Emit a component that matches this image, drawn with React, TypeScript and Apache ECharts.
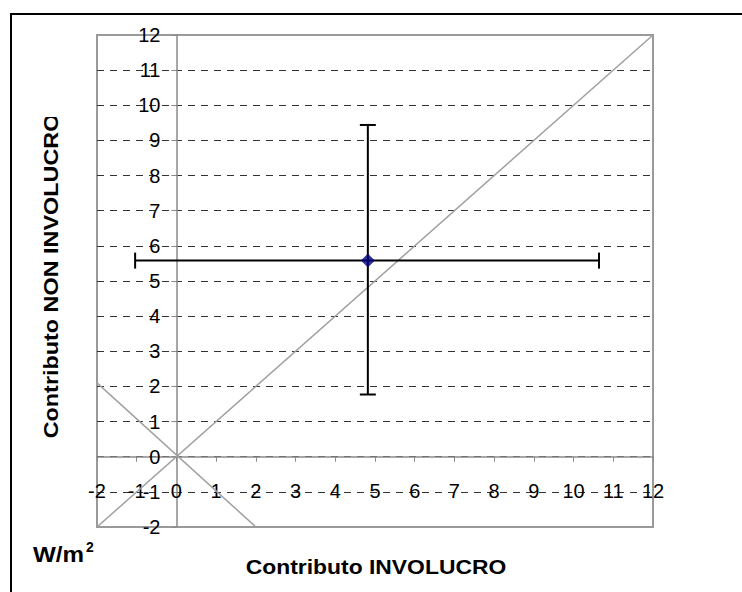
import React, { useEffect, useRef } from "react";
import * as echarts from "echarts";

const axisMin = -2;
const axisMax = 12;
const axisStep = 1;

// Point with error bars
const pointX = [4.82];
const pointY = [5.58];
const errXLow = [-1.04];
const errXHigh = [10.64];
const errYLow = [1.77];
const errYHigh = [9.44];

// Reference lines
const diagonalLine = [
  [-2, -2],
  [12, 12],
];
const antiDiagonalLine = [
  [-2, 2.1],
  [2, -2],
];

const xTitle = "Contributo INVOLUCRO";
const yTitle = "Contributo NON INVOLUCRO";
const unitText = "W/m";
const unitSup = "2";

const GRID_LEFT = 97;
const GRID_TOP = 35;
const GRID_W = 556;
const GRID_H = 492;

const LABEL_SIZE = 20;

export default function App() {
  const ref = useRef<HTMLDivElement>(null);

  useEffect(() => {
    if (!ref.current) return;
    const chart = echarts.init(ref.current, undefined, { renderer: "svg" });

    const errData = pointX.map((x, i) => [
      x,
      pointY[i],
      errXLow[i],
      errXHigh[i],
      errYLow[i],
      errYHigh[i],
    ]);
    const scatterData = pointX.map((x, i) => [x, pointY[i]]);

    // axes crossing at the origin
    const yZeroOffset = -((GRID_W * (0 - axisMin)) / (axisMax - axisMin));
    const xOffset = -(GRID_H - (GRID_H * (axisMax - 0)) / (axisMax - axisMin));

    const labelRich = {
      n: {
        fontSize: LABEL_SIZE,
        fontFamily: "Liberation Sans",
        color: "#000",
        lineHeight: LABEL_SIZE + 2,
      },
    };

    const option: any = {
      animation: false,
      backgroundColor: "#fff",
      textStyle: { fontFamily: "Liberation Sans", fontSize: LABEL_SIZE },
      grid: {
        left: GRID_LEFT,
        top: GRID_TOP,
        width: GRID_W,
        height: GRID_H,
        show: true,
        borderColor: "#9a9a9a",
        borderWidth: 2,
        backgroundColor: "transparent",
      },
      xAxis: {
        type: "value",
        min: axisMin,
        max: axisMax,
        interval: axisStep,
        position: "bottom",
        offset: xOffset,
        axisLine: { show: true, onZero: false, lineStyle: { color: "#8a8a8a", width: 1.5 } },
        axisTick: { show: true, inside: false, length: 5, lineStyle: { color: "#8a8a8a", width: 1 } },
        axisLabel: {
          show: true,
          margin: 23,
          color: "#000",
          fontSize: LABEL_SIZE,
          fontFamily: "Liberation Sans",
          formatter: (v: number) => "{n|" + v + "}",
          rich: labelRich,
          showMinLabel: true,
          showMaxLabel: true,
        },
        splitLine: { show: false },
      },
      yAxis: {
        type: "value",
        min: axisMin,
        max: axisMax,
        interval: axisStep,
        position: "left",
        offset: yZeroOffset,
        axisLine: { show: true, onZero: false, lineStyle: { color: "#8a8a8a", width: 1.5 } },
        axisTick: { show: true, inside: false, length: 5, lineStyle: { color: "#8a8a8a", width: 1 } },
        axisLabel: {
          show: true,
          margin: 16,
          color: "#000",
          fontSize: LABEL_SIZE,
          fontFamily: "Liberation Sans",
          formatter: (v: number) => "{n|" + v + "}",
          rich: labelRich,
          showMinLabel: true,
          showMaxLabel: true,
        },
        splitLine: {
          show: true,
          showMinLine: false,
          showMaxLine: false,
          lineStyle: { color: "#333", width: 1, type: [7, 6] },
        },
      },
      series: [
        {
          type: "line",
          data: diagonalLine,
          symbol: "none",
          lineStyle: { color: "#a0a0a0", width: 1.5 },
          z: 2,
          silent: true,
        },
        {
          type: "line",
          data: antiDiagonalLine,
          symbol: "none",
          lineStyle: { color: "#a0a0a0", width: 1.5 },
          z: 2,
          silent: true,
        },
        {
          type: "custom",
          z: 3,
          data: errData,
          encode: { x: 0, y: 1 },
          renderItem: (params: any, api: any) => {
            const x = api.value(0);
            const y = api.value(1);
            const pL = api.coord([api.value(2), y]);
            const pR = api.coord([api.value(3), y]);
            const pB = api.coord([x, api.value(4)]);
            const pT = api.coord([x, api.value(5)]);
            const cap = 8;
            const style = { stroke: "#000", lineWidth: 2 };
            return {
              type: "group",
              children: [
                { type: "line", shape: { x1: pL[0], y1: pL[1], x2: pR[0], y2: pR[1] }, style },
                { type: "line", shape: { x1: pL[0], y1: pL[1] - cap, x2: pL[0], y2: pL[1] + cap }, style },
                { type: "line", shape: { x1: pR[0], y1: pR[1] - cap, x2: pR[0], y2: pR[1] + cap }, style },
                { type: "line", shape: { x1: pB[0], y1: pB[1], x2: pT[0], y2: pT[1] }, style },
                { type: "line", shape: { x1: pB[0] - cap, y1: pB[1], x2: pB[0] + cap, y2: pB[1] }, style },
                { type: "line", shape: { x1: pT[0] - cap, y1: pT[1], x2: pT[0] + cap, y2: pT[1] }, style },
              ],
            };
          },
        },
        {
          type: "scatter",
          z: 4,
          data: scatterData,
          symbol: "diamond",
          symbolSize: 14,
          itemStyle: { color: "#000080" },
        },
      ],
      graphic: [
        {
          type: "rect",
          shape: { x: 11, y: 14, width: 900, height: 800 },
          style: { fill: "none", stroke: "#000", lineWidth: 2 },
          silent: true,
        },
        {
          type: "text",
          x: 51.5,
          y: 276,
          rotation: Math.PI / 2,
          scaleX: 1.17,
          style: {
            text: yTitle,
            font: "bold 20px Liberation Sans",
            fill: "#000",
            align: "center",
            verticalAlign: "middle",
          },
          z: 10,
        },
        {
          type: "rect",
          shape: { x: 38, y: 95, width: 26, height: 22 },
          style: { fill: "#fff" },
          z: 11,
          silent: true,
        },
        {
          type: "text",
          x: 376,
          y: 567,
          scaleX: 1.09,
          style: {
            text: xTitle,
            font: "bold 21px Liberation Sans",
            fill: "#000",
            align: "center",
            verticalAlign: "middle",
          },
          z: 10,
        },
        {
          type: "text",
          x: 33,
          y: 554,
          scaleX: 1.1,
          style: {
            text: unitText,
            font: "bold 22px Liberation Sans",
            fill: "#000",
            align: "left",
            verticalAlign: "middle",
          },
          z: 10,
        },
        {
          type: "text",
          x: 86,
          y: 547,
          style: {
            text: unitSup,
            font: "bold 14px Liberation Sans",
            fill: "#000",
            align: "left",
            verticalAlign: "middle",
          },
          z: 10,
        },
      ],
    };

    chart.setOption(option);
    return () => {
      chart.dispose();
    };
  }, []);

  return (
    <div
      ref={ref}
      style={{ position: "absolute", left: 0, top: 0, width: 742, height: 592 }}
    />
  );
}
